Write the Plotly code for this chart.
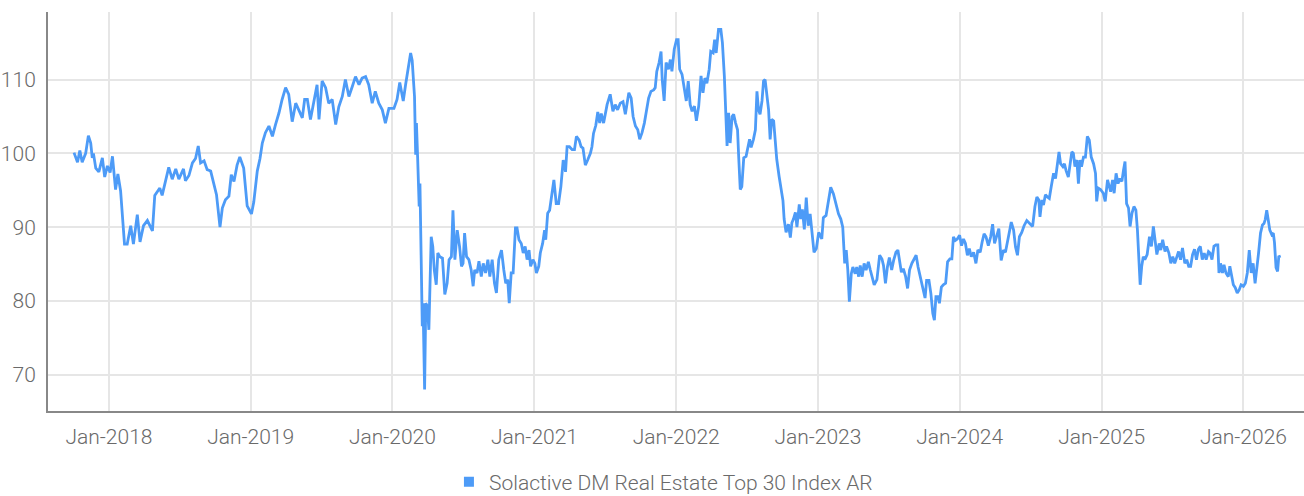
import pandas as pd
import plotly.graph_objects as go

BASE_DATE = "2018-01-01"
SERIES_NAME = "Solactive DM Real Estate Top 30 Index AR"

# day offsets from BASE_DATE
day_offsets = [
    -90, -81, -75, -69, -60, -53, -47, -43, -40, -34, -26, -17, -11, -4, 3, 9, 17, 23, 30, 40,
    47, 56, 63, 73, 80, 89, 99, 112, 118, 125, 131, 137, 146, 154, 163, 172, 180, 192, 197, 206,
    215, 223, 230, 236, 245, 253, 262, 270, 277, 286, 292, 300, 309, 315, 322, 330, 337, 347, 356, 367,
    373, 382, 389, 395, 403, 412, 421, 429, 438, 446, 455, 463, 472, 481, 489, 498, 504, 511, 519, 528,
    536, 541, 549, 558, 566, 575, 584, 592, 601, 609, 618, 627, 635, 644, 652, 661, 669, 678, 686, 695,
    704, 712, 721, 734, 742, 749, 758, 764, 770, 777,
    781, 787, 790, 792, 795, 799, 801, 804, 807, 809, 813, 816, 820, 824, 830, 834, 838, 843, 847, 852,
    859, 865, 871, 876, 882, 886, 891, 897, 903, 908, 912, 916, 921, 927, 933, 938, 942, 948, 953, 959,
    964, 970, 976, 981, 987, 993, 998, 1004, 1011, 1017, 1022, 1027, 1031, 1036, 1041, 1047, 1051, 1056, 1062, 1067,
    1072, 1077, 1082, 1086, 1092, 1097, 1101, 1107, 1111, 1117, 1122, 1125, 1130, 1135, 1141, 1146, 1152, 1158, 1164, 1170,
    1176, 1180, 1186, 1193, 1199, 1204, 1211, 1216, 1221, 1227, 1233, 1240, 1244, 1248, 1254, 1259, 1264, 1268,
    1274, 1283, 1291, 1298, 1304, 1310, 1317, 1324, 1330, 1339, 1345, 1350, 1356, 1362, 1367, 1373, 1379, 1384, 1390, 1396,
    1403, 1407, 1411, 1417, 1422, 1425, 1430, 1435, 1441, 1446, 1450, 1456, 1462, 1466, 1470, 1476, 1482, 1487, 1492, 1497,
    1502, 1508, 1513, 1519, 1525, 1530, 1535, 1540, 1546, 1550, 1556, 1560, 1564, 1570, 1576, 1580, 1585, 1589, 1592, 1596,
    1600, 1605, 1609, 1614, 1619, 1622, 1626, 1630, 1635, 1641, 1645, 1650, 1654, 1660, 1665, 1669, 1673, 1677, 1682, 1686,
    1690, 1695, 1699, 1703, 1707, 1712, 1716, 1720, 1726, 1732, 1736, 1739, 1744, 1750, 1755, 1759, 1763, 1768, 1772, 1778,
    1782, 1786, 1791, 1796, 1801, 1806, 1812, 1816, 1822, 1828,
    1836, 1840, 1847, 1853, 1859, 1866, 1873, 1879, 1885, 1890, 1895, 1899, 1903, 1907, 1912, 1916, 1922, 1926, 1931, 1935,
    1940, 1945, 1950, 1956, 1961, 1966, 1971, 1978, 1985, 1991, 1995, 2000, 2005, 2010, 2016, 2021, 2027, 2032, 2036, 2041,
    2046, 2052, 2057, 2062, 2068, 2074, 2079, 2084, 2089, 2096, 2102, 2106, 2112, 2117, 2122, 2126, 2130, 2135, 2139, 2144,
    2149, 2155, 2160, 2166, 2171, 2175, 2180, 2185, 2191, 2196, 2201, 2206, 2211, 2216, 2221, 2227, 2233, 2238, 2244, 2249,
    2254, 2259, 2265, 2271, 2276, 2281, 2287, 2292, 2298, 2304, 2309, 2314, 2319, 2324, 2330, 2335, 2340, 2345, 2351, 2357,
    2364,
    2379, 2385, 2390, 2395, 2398, 2403, 2407, 2412, 2417, 2422, 2427, 2433, 2438, 2443, 2447, 2451, 2457, 2461, 2465, 2471,
    2475, 2480, 2484, 2488, 2493, 2497, 2501, 2505, 2510, 2515, 2520, 2525, 2530, 2536, 2541, 2544, 2548, 2554, 2561, 2566,
    2572, 2577, 2580, 2585, 2589, 2594, 2599, 2604, 2609, 2613, 2617, 2621, 2626, 2630, 2635, 2640, 2645, 2649, 2652, 2656,
    2660, 2664, 2668, 2674, 2680, 2685, 2690, 2695, 2699, 2705, 2709, 2714, 2720, 2724, 2730, 2735, 2740, 2745, 2750, 2755,
    2760, 2765, 2771, 2776, 2781, 2786, 2791, 2796, 2801, 2806, 2811, 2816, 2821, 2826, 2832, 2836, 2841, 2846, 2851, 2856,
    2859, 2863, 2868, 2872, 2877, 2883, 2887, 2891, 2896, 2901, 2906, 2911, 2916, 2922, 2927, 2932, 2937, 2942, 2947, 2952,
    2956, 2961, 2966, 2971, 2975, 2978, 2982, 2986, 2990, 2995, 2999, 3002, 3006, 3010, 3013, 3018,
]

index_values = [
    100.1, 98.8, 100.4, 98.8, 100.0, 102.4, 101.4, 99.4, 100.0, 98.0, 97.5, 99.4, 96.8, 98.3, 97.4, 99.6, 95.1, 97.2, 94.9, 87.7,
    87.7, 90.2, 87.7, 91.7, 88.0, 90.2, 90.9, 89.5, 94.3, 94.8, 95.3, 94.3, 96.3, 98.1, 96.5, 97.9, 96.5, 97.9, 96.3, 97.0,
    98.7, 99.3, 101.0, 98.7, 99.0, 97.8, 97.6, 96.0, 94.4, 90.0, 92.6, 93.7, 94.2, 97.1, 96.2, 98.4, 99.5, 98.0, 92.9, 91.8,
    93.4, 97.6, 99.3, 101.4, 102.8, 103.7, 102.3, 103.9, 105.5, 107.3, 108.9, 108.0, 104.3, 106.8, 105.9, 104.8, 107.3, 107.3, 104.6, 107.3,
    109.3, 104.6, 109.8, 108.9, 106.8, 107.3, 103.9, 106.3, 107.7, 110.0, 107.7, 109.1, 110.4, 109.3, 110.2, 110.4, 109.3, 106.8, 108.4, 106.8,
    105.9, 104.1, 106.1, 106.1, 107.3, 109.6, 107.1, 109.3, 111.1, 113.6,
    112.6, 107.7, 99.8, 104.1, 99.5, 92.8, 95.9, 86.0, 76.6, 79.7, 68.0, 79.7, 79.3, 76.1, 88.7, 87.4, 84.2, 82.2, 86.5, 86.0,
    85.8, 80.9, 82.4, 85.6, 86.0, 92.3, 85.6, 89.6, 87.4, 84.7, 85.1, 89.2, 86.0, 85.6, 84.2, 82.0, 84.2, 83.8, 85.4, 83.3,
    85.1, 83.8, 85.6, 83.3, 85.6, 82.4, 81.1, 85.6, 86.9, 84.2, 82.4, 82.9, 79.7, 83.8, 83.8, 89.9, 89.9, 88.3, 87.8, 86.5,
    87.4, 85.6, 86.9, 84.7, 85.6, 85.1, 83.8, 84.7, 86.5, 87.8, 89.6, 88.3, 91.9, 92.3, 95.0, 96.4, 93.2, 93.2, 95.5, 99.1,
    97.5, 100.9, 100.9, 100.5, 100.5, 102.3, 101.8, 100.9, 100.7, 98.4, 99.1, 100.0, 100.9, 102.7, 103.8, 105.6, 104.1, 105.4,
    104.1, 106.6, 108.0, 105.7, 106.6, 105.9, 106.8, 107.0, 105.3, 108.2, 107.5, 105.0, 103.7, 103.2, 101.9, 102.8, 104.1, 105.9, 107.5, 108.4,
    108.6, 108.9, 111.1, 112.3, 113.8, 110.0, 107.1, 112.3, 111.4, 112.7, 111.1, 114.1, 115.4, 115.4, 111.4, 110.7, 108.4, 107.1, 109.8, 106.6,
    105.7, 106.4, 104.4, 106.4, 110.5, 108.2, 110.2, 109.5, 111.4, 113.8, 113.6, 115.4, 113.6, 116.8, 116.8, 115.0, 110.5, 105.5, 101.0, 105.5,
    101.4, 105.0, 105.3, 104.1, 103.2, 99.5, 95.1, 95.5, 99.4, 99.6, 100.8, 101.9, 100.8, 101.9, 103.2, 108.4, 105.9, 105.3, 107.1, 109.8,
    110.0, 107.3, 105.9, 101.9, 104.6, 104.4, 101.4, 99.2, 96.9, 94.7, 93.6, 91.1, 89.3, 90.4, 88.6, 90.6, 91.1, 92.0, 90.0, 93.1,
    91.1, 92.4, 89.7, 94.0, 90.2, 91.8, 88.4, 86.6, 87.1, 89.3,
    88.4, 91.3, 91.6, 93.4, 95.4, 94.5, 93.1, 91.8, 91.1, 90.0, 85.1, 86.9, 84.2, 79.9, 83.7, 84.6, 83.7, 84.6, 83.3, 84.8,
    83.3, 85.1, 84.2, 85.3, 84.2, 83.3, 82.2, 82.9, 86.2, 85.7, 84.8, 82.4, 84.6, 85.9, 84.2, 85.5, 86.6, 86.9, 85.5, 83.9,
    84.4, 83.3, 81.7, 84.2, 85.1, 85.7, 86.2, 84.6, 83.3, 81.7, 80.4, 82.8, 82.8, 81.0, 78.3, 77.4, 80.6, 80.6, 79.7, 81.9,
    82.2, 82.4, 85.3, 85.7, 85.7, 88.7, 88.2, 88.4, 88.9, 87.5, 88.4, 87.8, 86.2, 87.1, 86.0, 86.6, 85.1, 86.9, 86.6, 88.0,
    89.1, 88.7, 87.5, 88.7, 90.4, 87.8, 88.9, 89.8, 85.5, 86.9, 86.6, 88.2, 89.3, 90.7, 89.6, 87.3, 86.2, 88.7, 89.3, 90.2,
    90.9,
    90.1, 92.8, 94.1, 93.7, 91.4, 93.7, 93.0, 94.4, 94.1, 93.9, 95.5, 97.3, 96.6, 98.6, 100.2, 98.6, 98.2, 98.6, 97.7, 96.8,
    98.2, 100.2, 100.0, 98.2, 99.1, 95.9, 99.1, 98.2, 99.5, 99.5, 102.3, 101.8, 99.5, 98.6, 97.3, 93.5, 95.3, 95.1, 94.6, 93.5,
    96.4, 95.5, 94.8, 96.4, 94.6, 97.3, 95.9, 96.6, 96.2, 97.7, 98.9, 93.2, 92.6, 90.1, 91.9, 92.8, 92.3, 89.6, 86.5, 82.2,
    84.7, 86.0, 85.6, 86.3, 88.7, 87.4, 90.1, 88.3, 86.3, 87.8, 86.9, 88.3, 86.7, 87.4, 86.5, 85.1, 86.0, 85.1, 86.0, 86.7,
    85.6, 87.2, 85.1, 85.6, 84.7, 84.7, 86.3, 87.0, 85.6, 87.0, 87.4, 85.6, 86.5, 85.6, 86.7, 86.5, 85.6, 87.4, 87.6, 87.6,
    83.8, 85.1, 83.8, 84.9, 83.8, 83.3, 84.7, 83.3, 82.2, 81.8, 81.1, 81.5, 82.2, 82.0, 82.4, 83.8, 86.9, 83.8, 85.1, 82.4,
    84.7, 86.5, 89.2, 90.3, 90.5, 91.0, 92.3, 91.0, 89.6, 89.0, 89.2, 87.9, 84.5, 84.0, 86.0, 86.1,
]

y_ticks = [70, 80, 90, 100, 110]
x_tick_dates = ["2018-01-01", "2019-01-01", "2020-01-01", "2021-01-01", "2022-01-01",
                "2023-01-01", "2024-01-01", "2025-01-01", "2026-01-01"]
x_tick_labels = ["Jan-2018", "Jan-2019", "Jan-2020", "Jan-2021", "Jan-2022",
                 "Jan-2023", "Jan-2024", "Jan-2025", "Jan-2026"]

dates = pd.Timestamp(BASE_DATE) + pd.to_timedelta(day_offsets, unit="D")

LINE_COLOR = "#4d9bf7"
FONT = "Roboto, sans-serif"
TEXT_COLOR = "#6a6a6a"
TICK_FONT = dict(family=FONT, size=21, color=TEXT_COLOR, weight=300)

fig = go.Figure()
fig.add_trace(go.Scatter(
    x=dates, y=index_values, mode="lines", name=SERIES_NAME,
    line=dict(color=LINE_COLOR, width=2.8), showlegend=False,
))
# legend entry with square swatch
fig.add_trace(go.Scatter(
    x=[None], y=[None], mode="markers", name=SERIES_NAME,
    marker=dict(symbol="square", size=10, color=LINE_COLOR), showlegend=True,
))

fig.update_layout(
    width=1304, height=496,
    margin=dict(l=48, r=0, t=12, b=85, autoexpand=False),
    paper_bgcolor="white", plot_bgcolor="white",
    font=TICK_FONT,
    legend=dict(orientation="h", x=0.49, xanchor="center", y=-0.178, yanchor="middle",
                font=TICK_FONT, itemwidth=30),
    xaxis=dict(
        range=["2017-07-28", "2026-06-06"],
        tickvals=x_tick_dates, ticktext=x_tick_labels, tickfont=TICK_FONT,
        showgrid=True, gridcolor="#e6e6e6", gridwidth=2,
        showline=True, linecolor="#888888", linewidth=2,
        ticks="", ticklabelstandoff=6, zeroline=False, automargin=False,
    ),
    yaxis=dict(
        range=[65.1, 119.15],
        tickvals=y_ticks, tickfont=TICK_FONT,
        showgrid=True, gridcolor="#e6e6e6", gridwidth=2,
        showline=True, linecolor="#888888", linewidth=2,
        ticks="", ticklabelstandoff=6, zeroline=False, automargin=False,
    ),
)

fig.write_html("out.html", config={"displayModeBar": False},
               post_script="document.body.style.margin='0';document.body.style.overflow='hidden';")
